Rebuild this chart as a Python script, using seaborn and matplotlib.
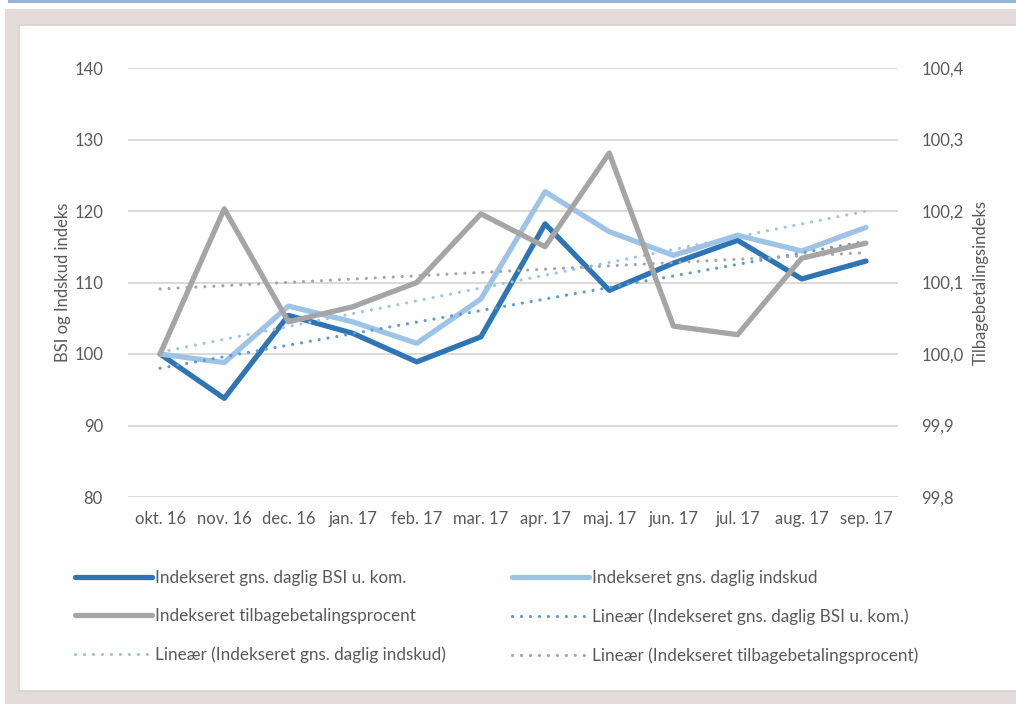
import matplotlib
matplotlib.use('Agg')
import matplotlib.pyplot as plt
from matplotlib.patches import Rectangle
from matplotlib.ticker import FuncFormatter
import seaborn as sns
import numpy as np

# data
months = ['okt. 16', 'nov. 16', 'dec. 16', 'jan. 17', 'feb. 17', 'mar. 17',
          'apr. 17', 'maj. 17', 'jun. 17', 'jul. 17', 'aug. 17', 'sep. 17']
bsi = [100.0, 93.8, 105.4, 102.9, 98.9, 102.4, 118.2, 108.9, 112.7, 115.9, 110.5, 113.0]
indskud = [100.0, 98.8, 106.7, 104.5, 101.5, 107.7, 122.7, 117.1, 113.8, 116.6, 114.4, 117.7]
tilbage = [100.000, 100.203, 100.045, 100.066, 100.100, 100.196,
           100.150, 100.281, 100.039, 100.027, 100.134, 100.155]

c_bsi = '#2e75b6'
c_ind = '#9dc3e6'
c_til = '#a5a5a5'
c_bsi_trend = '#5b9bd5'
txt = '#595959'

sns.set_style('white')
plt.rcParams['font.family'] = ['Lato', 'DejaVu Sans']
fs = 12
lfs = 12.3

W, H = 1016, 704
fig = plt.figure(figsize=(W / 100, H / 100), dpi=100)
fig.patch.set_facecolor('white')

def px_rect(x0, y0, x1, y1, **kw):
    fig.patches.append(Rectangle((x0 / W, 1 - y1 / H), (x1 - x0) / W, (y1 - y0) / H,
                                 transform=fig.transFigure, figure=fig, zorder=-5, **kw))

# frame like the report page
px_rect(8, 0, W, 2.5, facecolor='#95b3d7', edgecolor='none')
px_rect(5, 9, W, H, facecolor='#e4dcda', edgecolor='none')
px_rect(19, 25, W + 5, 691, facecolor='white', edgecolor='#d6d2d1', lw=1.2)

ax = fig.add_axes([128 / W, 1 - 497 / H, 770 / W, 429 / H])
ax.set_facecolor('none')
ax2 = ax.twinx()

x = np.arange(len(months))
dots = (0, (0.01, 2.8))

sns.lineplot(x=x, y=bsi, ax=ax, color=c_bsi, lw=3.8, label='Indekseret gns. daglig BSI u. kom.')
sns.lineplot(x=x, y=indskud, ax=ax, color=c_ind, lw=3.8, label='Indekseret gns. daglig indskud')
sns.regplot(x=x, y=bsi, ax=ax, scatter=False, ci=None, color=c_bsi_trend,
            label='Lineær (Indekseret gns. daglig BSI u. kom.)',
            line_kws=dict(lw=2.3, ls=dots, dash_capstyle='round'))
sns.regplot(x=x, y=indskud, ax=ax, scatter=False, ci=None, color=c_ind,
            label='Lineær (Indekseret gns. daglig indskud)',
            line_kws=dict(lw=2.3, ls=dots, dash_capstyle='round'))

sns.lineplot(x=x, y=tilbage, ax=ax2, color=c_til, lw=3.8, label='Indekseret tilbagebetalingsprocent')
sns.regplot(x=x, y=tilbage, ax=ax2, scatter=False, ci=None, color=c_til,
            label='Lineær (Indekseret tilbagebetalingsprocent)',
            line_kws=dict(lw=2.3, ls=dots, dash_capstyle='round'))

for a in (ax, ax2):
    for s in a.spines.values():
        s.set_visible(False)
    if a.get_legend():
        a.get_legend().remove()
    a.tick_params(length=0, colors=txt, labelsize=fs)
    a.set_xlabel('')

ax.set_xlim(-0.5, 11.5)
ax.set_ylim(80, 140)
ax.set_yticks(np.arange(80, 141, 10))
ax.grid(axis='y', color='#d9d9d9', lw=1.4)
ax.set_axisbelow(True)
ax.set_xticks(x)
ax.set_xticklabels(months)
ax.tick_params(axis='x', pad=10)
ax.tick_params(axis='y', pad=18)

ax2.set_ylim(99.8, 100.4)
ax2.set_yticks(np.arange(99.8, 100.41, 0.1))
ax2.yaxis.set_major_formatter(FuncFormatter(lambda v, p: f'{v:.1f}'.replace('.', ',')))
ax2.tick_params(axis='y', pad=17)
ax2.grid(False)

ax.set_ylabel('BSI og Indskud indeks', color=txt, fontsize=fs)
ax.yaxis.set_label_coords((71 - 128) / 770, 0.5)
ax2.set_ylabel('Tilbagebetalingsindeks', color=txt, fontsize=fs)
ax2.yaxis.set_label_coords((973 - 128) / 770, 0.5)

h1, l1 = ax.get_legend_handles_labels()
h2, l2 = ax2.get_legend_handles_labels()
hd = dict(zip(l1 + l2, h1 + h2))
left = ['Indekseret gns. daglig BSI u. kom.', 'Indekseret tilbagebetalingsprocent',
        'Lineær (Indekseret gns. daglig indskud)']
right = ['Indekseret gns. daglig indskud', 'Lineær (Indekseret gns. daglig BSI u. kom.)',
         'Lineær (Indekseret tilbagebetalingsprocent)']
for labels, xpx in ((left, 75), (right, 512)):
    fig.legend([hd[l] for l in labels], labels, loc='upper left',
               bbox_to_anchor=(xpx / W, 1 - 570 / H), frameon=False,
               fontsize=lfs, labelcolor=txt, handlelength=4.5, handletextpad=0.2,
               labelspacing=1.3, borderpad=0, borderaxespad=0)

fig.savefig('out.png', dpi=100)
